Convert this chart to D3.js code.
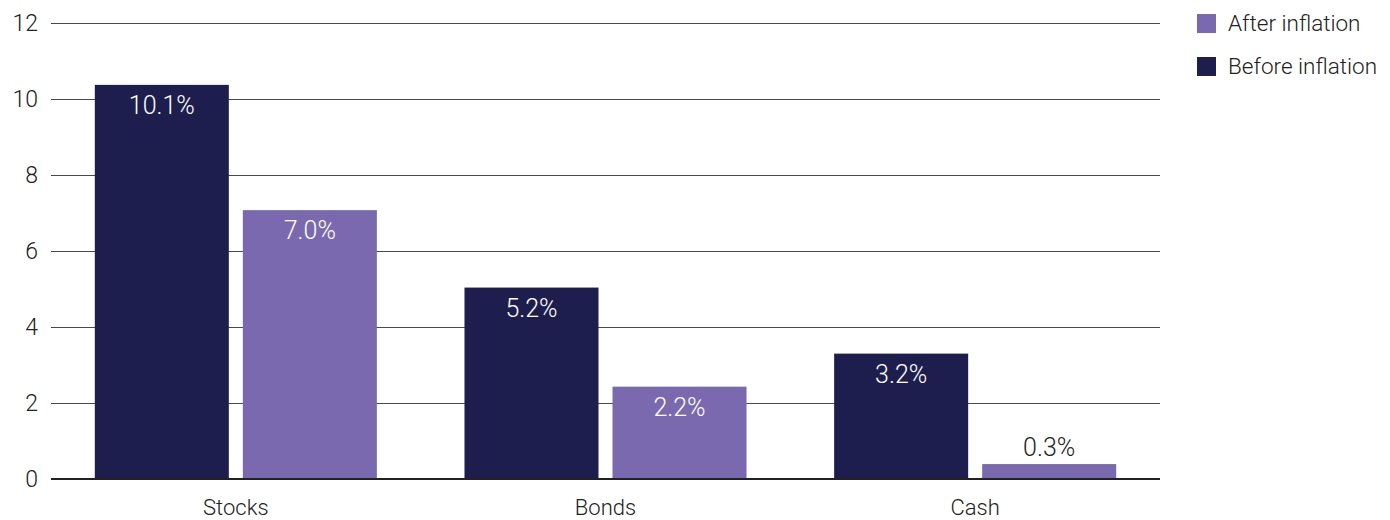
<!DOCTYPE html>
<html>
<head>
<meta charset="utf-8">
<script src="https://cdn.jsdelivr.net/npm/d3@7"></script>
<style>
    body { margin: 0; background: #fff; }
    svg text { font-family: Roboto, "Open Sans", sans-serif; font-weight: 300; }
    .grid line { stroke: #4a4a4a; stroke-width: 1; }
</style>
</head>
<body>
<svg class="chart" width="1390" height="520"></svg>
<script>
var categories = ["Stocks", "Bonds", "Cash"];
var seriesKeys = ["before", "after"];
var seriesNames = ["Before inflation", "After inflation"];
var beforeValues = [10.37, 5.03, 3.29];
var afterValues = [7.07, 2.42, 0.38];
var beforeLabels = ["10.1%", "5.2%", "3.2%"];
var afterLabels = ["7.0%", "2.2%", "0.3%"];
var yTicks = [0, 2, 4, 6, 8, 10, 12];

var colors = { before: "#1e1e4e", after: "#7a69ae" };

var svg = d3.select("svg.chart");
var plotLeft = 51, plotRight = 1160, plotTop = 23, plotBottom = 478.5;

var y = d3.scaleLinear().domain([0, 12]).range([plotBottom, plotTop]);
var x0 = d3.scaleBand().domain(categories).range([plotLeft, plotRight]);
var x1 = d3.scaleBand().domain(seriesKeys)
    .range([0, x0.bandwidth()])
    .paddingInner(0.0946)
    .paddingOuter(0.296);

// gridlines + tick labels
var grid = svg.append("g").classed("grid", true);
yTicks.forEach(function (t) {
    if (t !== 0) {
        grid.append("line")
            .attr("x1", plotLeft).attr("x2", plotRight)
            .attr("y1", Math.round(y(t)) + 0.5).attr("y2", Math.round(y(t)) + 0.5);
    }
    svg.append("text")
        .attr("x", 38)
        .attr("y", y(t) + 8)
        .attr("text-anchor", "end")
        .attr("font-size", 23)
        .attr("fill", "#222")
        .text(t);
});

var rows = categories.map(function (c, i) {
    return [
        { cat: c, key: "before", value: beforeValues[i], label: beforeLabels[i] },
        { cat: c, key: "after", value: afterValues[i], label: afterLabels[i] }
    ];
});

var groups = svg.selectAll("g.cat")
    .data(rows)
    .enter().append("g")
    .classed("cat", true)
    .attr("transform", function (d, i) { return "translate(" + x0(categories[i]) + ",0)"; });

groups.selectAll("rect")
    .data(function (d) { return d; })
    .enter().append("rect")
    .attr("x", function (d) { return x1(d.key); })
    .attr("width", x1.bandwidth())
    .attr("y", function (d) { return y(d.value); })
    .attr("height", function (d) { return plotBottom - y(d.value); })
    .attr("fill", function (d) { return colors[d.key]; });

groups.selectAll("text.val")
    .data(function (d) { return d; })
    .enter().append("text")
    .classed("val", true)
    .attr("x", function (d) { return x1(d.key) + x1.bandwidth() / 2; })
    .attr("y", function (d) {
        var h = plotBottom - y(d.value);
        return h > 40 ? y(d.value) + 29 : y(d.value) - 8;
    })
    .attr("text-anchor", "middle")
    .attr("font-size", 25)
    .attr("fill", function (d) { return (plotBottom - y(d.value)) > 40 ? "#fff" : "#222"; })
    .text(function (d) { return d.label; });

// zero axis
svg.append("line")
    .attr("x1", plotLeft).attr("x2", plotRight)
    .attr("y1", plotBottom + 0.5).attr("y2", plotBottom + 0.5)
    .attr("stroke", "#222")
    .attr("stroke-width", 2);

// category labels
svg.selectAll("text.catlabel")
    .data(categories)
    .enter().append("text")
    .classed("catlabel", true)
    .attr("x", function (d) { return x0(d) + x0.bandwidth() / 2; })
    .attr("y", 515)
    .attr("text-anchor", "middle")
    .attr("font-size", 22)
    .attr("fill", "#222")
    .text(function (d) { return d; });

// legend (after first, then before)
var legendOrder = [1, 0];
var legend = svg.selectAll("g.legend")
    .data(legendOrder)
    .enter().append("g")
    .classed("legend", true)
    .attr("transform", function (d, i) { return "translate(1197," + (14 + i * 43) + ")"; });
legend.append("rect")
    .attr("width", 19).attr("height", 19)
    .attr("fill", function (d) { return colors[seriesKeys[d]]; });
legend.append("text")
    .attr("x", 31).attr("y", 17)
    .attr("font-size", 22.5)
    .attr("fill", "#222")
    .text(function (d) { return seriesNames[d]; });
</script>
</body>
</html>
